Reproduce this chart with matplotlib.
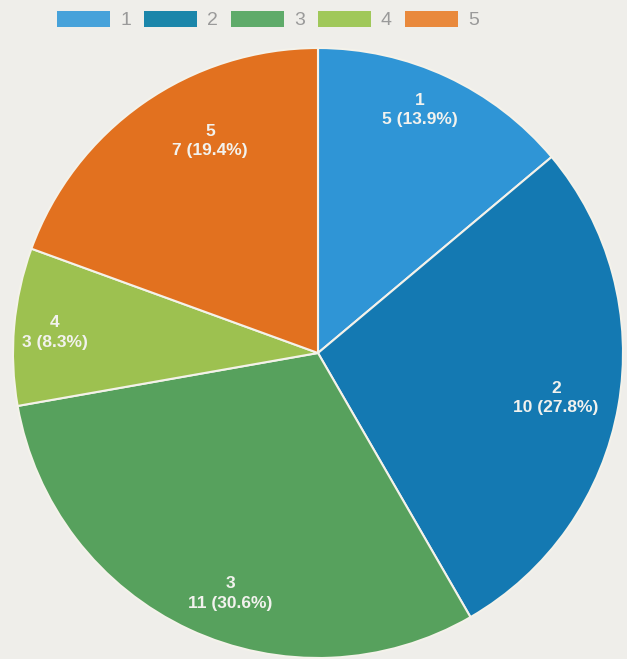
import matplotlib
matplotlib.use("Agg")
import matplotlib.pyplot as plt
from matplotlib.patches import Patch
import numpy as np

categories = ["1", "2", "3", "4", "5"]
counts = [5, 10, 11, 3, 7]
slice_colors = ["#2f95d6", "#1479b2", "#57a15d", "#9dc150", "#e2711f"]
legend_colors = ["#47a2da", "#1b86aa", "#5fab6a", "#a0c85a", "#e9893c"]

plt.rcParams['font.family'] = ['Liberation Sans', 'DejaVu Sans']

W, H = 627, 659
fig = plt.figure(figsize=(W / 100, H / 100), dpi=100)
fig.patch.set_facecolor("#efeeea")
ax = fig.add_axes([0, 0, 1, 1])

cx, cy, radius = 318, H - 353, 305
total = sum(counts)

wedges, _ = ax.pie(counts, colors=slice_colors, startangle=90, counterclock=False,
                   center=(cx, cy), radius=radius, frame=True,
                   wedgeprops=dict(edgecolor="#f4f2ea", linewidth=1.5))
ax.set_xlim(0, W)
ax.set_ylim(0, H)
ax.set_aspect("equal")
ax.axis("off")

# label placement: fraction of radius and angular nudge from the slice middle
label_r = [0.864, 0.794, 0.84, 0.865, 0.78]
label_shift = [2.2, -0.7, 5.0, 0.6, -8.0]

start = 90.0
for cat, n, lr, sh in zip(categories, counts, label_r, label_shift):
    sweep = n / total * 360
    mid = np.deg2rad(start - sweep / 2 + sh)
    start -= sweep
    x = cx + radius * lr * np.cos(mid)
    y = cy + radius * lr * np.sin(mid)
    ax.text(x, y, f"{cat}\n{n} ({n / total * 100:.1f}%)", ha="center", va="center",
            color="#f2f2ee", fontsize=12.5, fontweight="bold", linespacing=1.4)

handles = [Patch(facecolor=c, edgecolor="none") for c in legend_colors]
ax.legend(handles, categories, loc="upper left", bbox_to_anchor=(57 / W, 1 - 11 / H),
          ncol=5, frameon=False, fontsize=14, handlelength=2.75, handleheight=0.85,
          handletextpad=0.5, columnspacing=0.66, borderpad=0, borderaxespad=0,
          labelcolor="#9a9a9a")

fig.savefig("out.png", dpi=100, facecolor=fig.get_facecolor())
